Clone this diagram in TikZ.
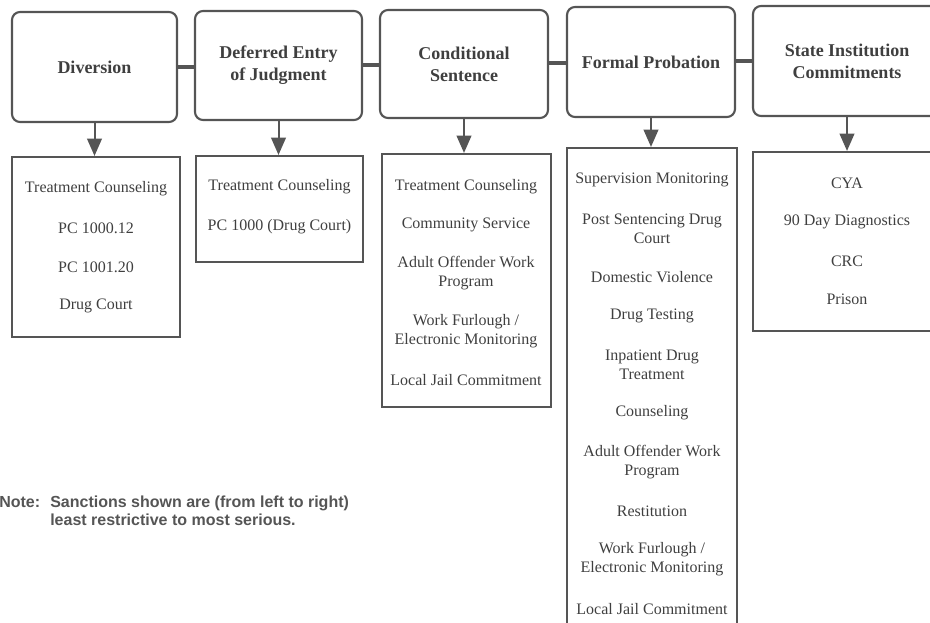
\documentclass[tikz,border=0pt]{standalone}
\usepackage{fontspec}
\setmainfont{Liberation Serif}
\newfontfamily\notefont{Liberation Sans}
\usetikzlibrary{arrows.meta}
\definecolor{ink}{HTML}{555555}
\definecolor{txt}{HTML}{3F3F3F}
\begin{document}
\begin{tikzpicture}[x=0.75pt,y=-0.75pt,
 hbox/.style={draw=ink, line width=1.6pt, rounded corners=6pt, inner sep=0pt, align=center,
   font=\fontsize{13.5}{16.5}\selectfont\bfseries, text=txt},
 sbox/.style={draw=ink, line width=1.6pt, inner sep=0pt},
 itm/.style={align=center, inner sep=0pt, font=\fontsize{12}{14.25}\selectfont, text=txt},
 link/.style={draw=ink, line width=3pt},
 down/.style={draw=ink, line width=1.5pt, -{Triangle[width=11pt,length=13pt]}},
 notetxt/.style={inner sep=0pt, align=left, text=ink, font=\notefont\bfseries\fontsize{12}{13.5}\selectfont},
]
\useasboundingbox (0,0) rectangle (930,622);
\clip (0,0) rectangle (930,622);

% header boxes
\node[hbox, minimum width=123.75pt, minimum height=82.5pt] (h1) at (94.5,67) {Diversion};
\node[hbox, minimum width=125.25pt, minimum height=81.75pt] (h2) at (278.5,65.5) {Deferred Entry\\of Judgment};
\node[hbox, minimum width=126pt, minimum height=81pt] (h3) at (464,64) {Conditional\\Sentence};
\node[hbox, minimum width=126pt, minimum height=82.5pt] (h4) at (651,62) {Formal Probation};
\node[hbox, minimum width=141pt, minimum height=82.5pt] (h5) at (847,61) {State Institution\\Commitments};

% sub boxes
\node[sbox, minimum width=126pt, minimum height=135pt] (b1) at (96,247) {};
\node[sbox, minimum width=125.25pt, minimum height=79.5pt] (b2) at (279.5,209) {};
\node[sbox, minimum width=126.75pt, minimum height=189.75pt] (b3) at (466.5,280.5) {};
\node[sbox, minimum width=127.5pt, minimum height=376.5pt] (b4) at (652,399) {};
\node[sbox, minimum width=141pt, minimum height=134.25pt] (b5) at (847,241.5) {};

% links between headers
\draw[link] (h1.east) -- (h1.east -| h2.west);
\draw[link] ([yshift=0.75pt]h2.east) -- ([yshift=0.75pt]h2.east -| h3.west);
\draw[link] ([yshift=0.75pt]h3.east) -- ([yshift=0.75pt]h3.east -| h4.west);
\draw[link] ([yshift=0.75pt]h4.east) -- ([yshift=0.75pt]h4.east -| h5.west);

% arrows
\draw[down] (h1.south) -- (h1.south |- b1.north);
\draw[down] (h2.south) -- (h2.south |- b2.north);
\draw[down] (h3.south) -- (h3.south |- b3.north);
\draw[down] (h4.south) -- (h4.south |- b4.north);
\draw[down] (h5.south) -- (h5.south |- b5.north);

% items box 1
\node[itm] (i11) at (96,189) {Treatment Counseling};
\node[itm] (i12) at (96,228) {PC 1000.12};
\node[itm] (i13) at (96,267) {PC 1001.20};
\node[itm] (i14) at (96,306) {Drug Court};
% items box 2
\node[itm] (i21) at (279.5,187) {Treatment Counseling};
\node[itm] (i22) at (279.5,227) {PC 1000 (Drug Court)};
% items box 3
\node[itm] (i31) at (466,187) {Treatment Counseling};
\node[itm] (i32) at (466,225) {Community Service};
\node[itm] (i33) at (466,273.5) {Adult Offender Work\\Program};
\node[itm] (i34) at (466,331.5) {Work Furlough /\\Electronic Monitoring};
\node[itm] (i35) at (466,380) {Local Jail Commitment};
% items box 4
\node[itm] (i41) at (652,180) {Supervision Monitoring};
\node[itm] (i42) at (652,228.5) {Post Sentencing Drug\\Court};
\node[itm] (i43) at (652,277) {Domestic Violence};
\node[itm] (i44) at (652,316) {Drug Testing};
\node[itm] (i45) at (652,364.5) {Inpatient Drug\\Treatment};
\node[itm] (i46) at (652,413) {Counseling};
\node[itm] (i47) at (652,462.5) {Adult Offender Work\\Program};
\node[itm] (i48) at (652,511) {Restitution};
\node[itm] (i49) at (652,559.5) {Work Furlough /\\Electronic Monitoring};
\node[itm] (i410) at (652,609) {Local Jail Commitment};
% items box 5
\node[itm] (i51) at (847,183) {CYA};
\node[itm] (i52) at (847,222) {90 Day Diagnostics};
\node[itm] (i53) at (847,261) {CRC};
\node[itm] (i54) at (847,299) {Prison};

% note
\node[notetxt, anchor=base west] (n1) at (-1,507) {Note:};
\node[notetxt, anchor=base west] (n2) at (50,507) {Sanctions shown are (from left to right)};
\node[notetxt, anchor=base west] (n3) at (50,525) {least restrictive to most serious.};
\end{tikzpicture}
\end{document}
